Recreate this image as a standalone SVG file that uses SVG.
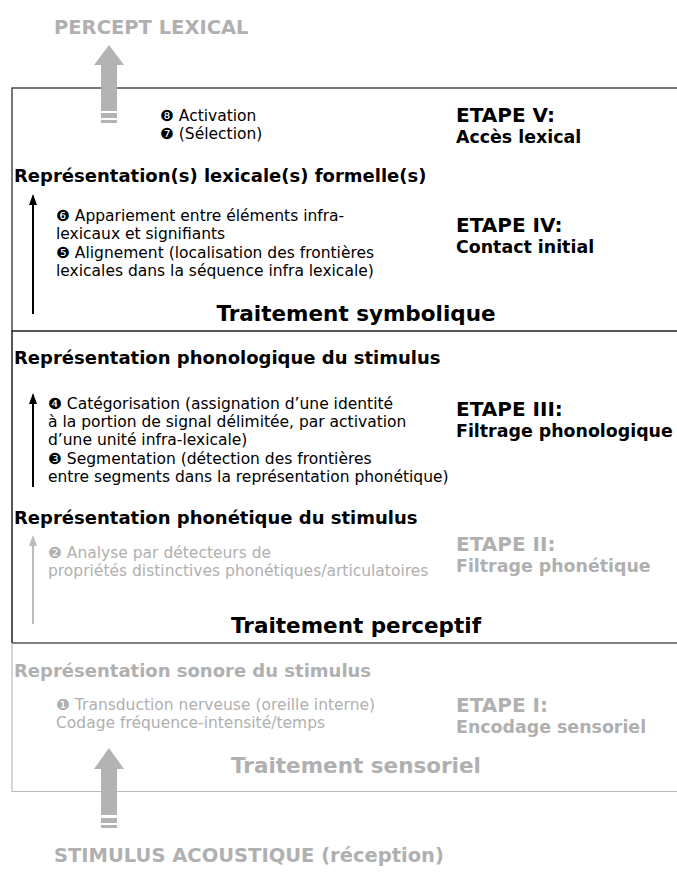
<svg xmlns="http://www.w3.org/2000/svg" width="677" height="872" viewBox="0 0 677 872">
<style>
.h{font-family:"DejaVu Sans",Verdana,sans-serif;font-weight:bold}
.b{font-family:"DejaVu Sans",Verdana,sans-serif;font-size:15.5px}
.k{fill:#000}
.g{fill:#b0b0b0}
.big{font-size:19.5px}
.sec{font-size:18px}
.et{font-size:20px}
.es{font-size:17.4px}
.tt{font-size:21.5px}
</style>
<defs>
<marker id="ah" markerWidth="11" markerHeight="8" refX="9" refY="4" orient="auto" markerUnits="userSpaceOnUse" viewBox="0 0 11 8">
<path d="M0,0 L11,4 L0,8 Z" fill="#000"/>
</marker>
<marker id="ahg" markerWidth="11" markerHeight="8" refX="9" refY="4" orient="auto" markerUnits="userSpaceOnUse" viewBox="0 0 11 8">
<path d="M0,0 L11,4 L0,8 Z" fill="#bbb"/>
</marker>
</defs>
<rect width="677" height="872" fill="#fff"/>

<g id="box-symbolique">
<path d="M12,331 L12,88 L680,88" fill="none" stroke="#4a4a4a" stroke-width="1.5"/>
</g>
<g id="box-perceptif">
<path d="M12,643 L12,331 L680,331" fill="none" stroke="#222" stroke-width="1.5"/>
</g>
<g id="box-sensoriel">
<path d="M12,643 L680,643" fill="none" stroke="#555" stroke-width="1.5"/>
<path d="M12,644 L12,791.5 L680,791.5" fill="none" stroke="#bbb" stroke-width="1.2"/>
</g>

<g id="connectors">
<g id="arrow-top" fill="#b3b3b3">
<path d="M109,45 L124,65 L117,65 L117,111 L101,111 L101,65 L94,65 Z"/>
<rect x="101" y="113" width="16" height="5"/>
<rect x="101" y="120" width="16" height="3"/>
</g>
<g id="arrow-bottom" fill="#b3b3b3">
<path d="M109,748 L124,769 L117,769 L117,815 L101,815 L101,769 L94,769 Z"/>
<rect x="101" y="818" width="16" height="5"/>
<rect x="101" y="825" width="16" height="3"/>
</g>
<line x1="33" y1="314" x2="33" y2="196" stroke="#000" stroke-width="2" marker-end="url(#ah)"/>
<line x1="33" y1="487" x2="33" y2="395" stroke="#000" stroke-width="2" marker-end="url(#ah)"/>
<line x1="33" y1="624" x2="33" y2="537" stroke="#bbb" stroke-width="2" marker-end="url(#ahg)"/>
</g>

<g id="percept">
<text class="h big g" x="54" y="34">PERCEPT LEXICAL</text>
</g>
<g id="etape5">
<text class="b k" x="160" y="121">❽ Activation</text>
<text class="b k" x="160" y="139">❼ (Sélection)</text>
<text class="h et k" x="456" y="122">ETAPE V:</text>
<text class="h es k" x="456" y="143">Accès lexical</text>
</g>
<g id="rep-lexicale">
<text class="h sec k" x="14" y="182">Représentation(s) lexicale(s) formelle(s)</text>
</g>
<g id="etape4">
<text class="b k" x="56" y="221">❻ Appariement entre éléments infra-</text>
<text class="b k" x="56" y="239">lexicaux et signifiants</text>
<text class="b k" x="56" y="258">❺ Alignement (localisation des frontières</text>
<text class="b k" x="56" y="276">lexicales dans la séquence infra lexicale)</text>
<text class="h et k" x="456" y="232">ETAPE IV:</text>
<text class="h es k" x="456" y="253">Contact initial</text>
</g>
<g id="symbolique">
<text class="h tt k" x="356" y="321" text-anchor="middle">Traitement symbolique</text>
</g>
<g id="rep-phonologique">
<text class="h sec k" x="14" y="364">Représentation phonologique du stimulus</text>
</g>
<g id="etape3">
<text class="b k" x="48" y="409">❹ Catégorisation (assignation d’une identité</text>
<text class="b k" x="48" y="427">à la portion de signal délimitée, par activation</text>
<text class="b k" x="48" y="445">d’une unité infra-lexicale)</text>
<text class="b k" x="48" y="464">❸ Segmentation (détection des frontières</text>
<text class="b k" x="48" y="482">entre segments dans la représentation phonétique)</text>
<text class="h et k" x="456" y="416">ETAPE III:</text>
<text class="h es k" x="456" y="437">Filtrage phonologique</text>
</g>
<g id="rep-phonetique">
<text class="h sec k" x="14" y="524">Représentation phonétique du stimulus</text>
</g>
<g id="etape2">
<text class="b g" x="48" y="558">❷ Analyse par détecteurs de</text>
<text class="b g" x="48" y="576">propriétés distinctives phonétiques/articulatoires</text>
<text class="h et g" x="456" y="551">ETAPE II:</text>
<text class="h es g" x="456" y="572">Filtrage phonétique</text>
</g>
<g id="perceptif">
<text class="h tt k" x="356" y="633" text-anchor="middle">Traitement perceptif</text>
</g>
<g id="rep-sonore">
<text class="h sec g" x="14" y="677">Représentation sonore du stimulus</text>
</g>
<g id="etape1">
<text class="b g" x="56" y="710">❶ Transduction nerveuse (oreille interne)</text>
<text class="b g" x="56" y="728">Codage fréquence-intensité/temps</text>
<text class="h et g" x="456" y="712">ETAPE I:</text>
<text class="h es g" x="456" y="733">Encodage sensoriel</text>
</g>
<g id="sensoriel">
<text class="h tt g" x="356" y="773" text-anchor="middle">Traitement sensoriel</text>
</g>
<g id="stimulus">
<text class="h big g" x="54" y="862">STIMULUS ACOUSTIQUE (réception)</text>
</g>
</svg>
